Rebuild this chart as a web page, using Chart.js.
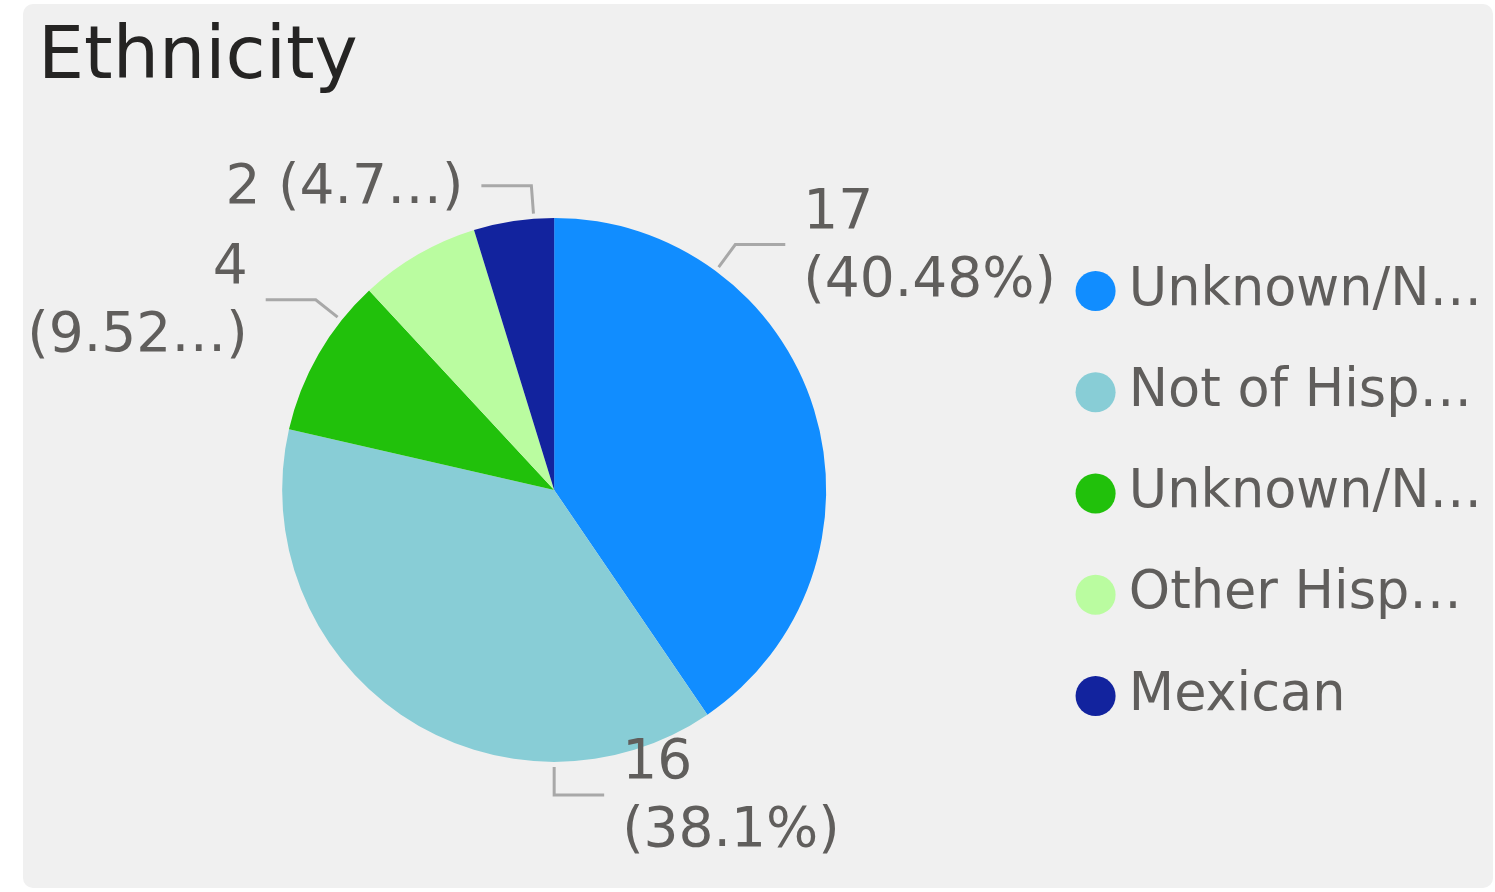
<!DOCTYPE html>
<html>
<head>
<meta charset="utf-8">
<script src="https://cdn.jsdelivr.net/npm/chart.js@4"></script>
<style>
    html, body { margin: 0; padding: 0; background: #ffffff; }
    #painel { position: absolute; left: 23px; top: 4px; width: 1470px; height: 884px; background: #f0f0f0; border-radius: 10px; }
    #caixa { position: absolute; left: 0; top: 0; width: 1495px; height: 892px; }
</style>
</head>
<body>
<div id="painel"></div>
<div id="caixa"><canvas id="graficoEtnia"></canvas></div>
<script>
// dados
const categorias = ['Unknown/N…', 'Not of Hisp…', 'Unknown/N…', 'Other Hisp…', 'Mexican'];
const valores = [17, 16, 4, 3, 2];
const cores = ['#118DFF', '#88CDD6', '#21C10B', '#BAFCA0', '#12239E'];

const fonte = 'DejaVu Sans';
const corTexto = '#605E5C';

// rótulos externos com linha de chamada
const rotulosFora = {
    id: 'rotulosFora',
    afterLayout(chart) {
        // título alinhado à borda do painel
        chart.titleBlock.left = 38;
    },
    afterDatasetsDraw(chart, args, opts) {
        const ctx = chart.ctx;
        const meta = chart.getDatasetMeta(0);
        const dados = chart.data.datasets[0].data;
        const total = dados.reduce((a, b) => a + b, 0);

        ctx.save();
        ctx.font = opts.tamanho + 'px "' + fonte + '"';
        ctx.fillStyle = corTexto;
        ctx.strokeStyle = opts.corLinha;
        ctx.lineWidth = 3;
        ctx.textBaseline = 'middle';

        meta.data.forEach((arc, i) => {
            const cfg = opts.itens[i];
            if (!cfg) return;
            const p = arc.getProps(['x', 'y', 'startAngle', 'endAngle', 'outerRadius'], true);
            const ang = p.startAngle + (p.endAngle - p.startAngle) * cfg.pos;
            const cos = Math.cos(ang), sin = Math.sin(ang);
            const x0 = p.x + cos * (p.outerRadius + 5);
            const y0 = p.y + sin * (p.outerRadius + 5);
            const x1 = p.x + cos * (p.outerRadius + 33);
            const y1 = p.y + sin * (p.outerRadius + 33);
            const lado = cos >= 0 ? 1 : -1;
            const x2 = x1 + lado * 50;

            ctx.beginPath();
            ctx.moveTo(x0, y0);
            ctx.lineTo(x1, y1);
            ctx.lineTo(x2, y1);
            ctx.stroke();

            let pct = String(parseFloat((dados[i] / total * 100).toFixed(2)));
            pct = cfg.corte ? pct.slice(0, cfg.corte) + '…' : pct + '%';
            const linhas = cfg.linhas === 1
                ? [dados[i] + ' (' + pct + ')']
                : [String(dados[i]), '(' + pct + ')'];

            ctx.textAlign = lado > 0 ? 'left' : 'right';
            const tx = x2 + lado * 18;
            linhas.forEach((t, k) => {
                ctx.fillText(t, tx, y1 + 3 + (k - (linhas.length - 1) / 2) * opts.entreLinhas);
            });
        });
        ctx.restore();
    }
};

new Chart(document.getElementById('graficoEtnia'), {
    type: 'pie',
    data: {
        labels: categorias,
        datasets: [{
            data: valores,
            backgroundColor: cores,
            borderWidth: 0,
            radius: 272
        }]
    },
    options: {
        responsive: true,
        maintainAspectRatio: false,
        animation: false,
        layout: {
            padding: { left: 68.5, right: 3, top: 0, bottom: 100 }
        },
        plugins: {
            title: {
                display: true,
                text: 'Ethnicity',
                align: 'start',
                color: '#252423',
                font: { family: fonte, size: 73, weight: 'normal', lineHeight: 1.2 },
                padding: { top: 15.6, bottom: 84.6 }
            },
            legend: {
                position: 'right',
                align: 'start',
                title: {
                    display: true,
                    text: '',
                    font: { size: 12, lineHeight: 1 },
                    padding: { top: 204, bottom: 0 }
                },
                labels: {
                    usePointStyle: true,
                    pointStyle: 'circle',
                    boxWidth: 14,
                    boxHeight: 28.3,
                    padding: 48.75,
                    color: corTexto,
                    font: { family: fonte, size: 52.5 }
                }
            },
            tooltip: { enabled: false },
            rotulosFora: {
                tamanho: 55,
                entreLinhas: 68,
                corLinha: '#A8A8A8',
                itens: [
                    { pos: 0.25, linhas: 2 },
                    { pos: 0.25, linhas: 2 },
                    { pos: 0.75, linhas: 2, corte: 4 },
                    null,
                    { pos: 0.75, linhas: 1, corte: 3 }
                ]
            }
        }
    },
    plugins: [rotulosFora]
});
</script>
</body>
</html>
